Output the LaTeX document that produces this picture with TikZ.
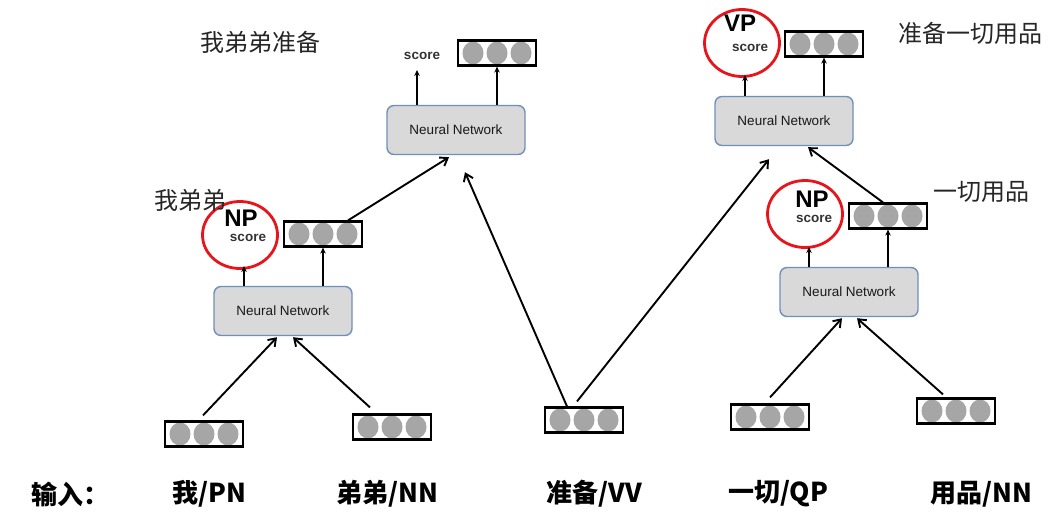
\documentclass[tikz,border=0pt]{standalone}
\usepackage{fontspec}
\setmainfont{Liberation Sans}
\newfontfamily\cjk{Noto Sans CJK SC}
\usetikzlibrary{arrows.meta,shapes.geometric}
\definecolor{dotgray}{HTML}{A6A6A6}
\definecolor{nnfill}{HTML}{D9D9D9}
\definecolor{nnedge}{HTML}{7090BC}
\definecolor{ringred}{HTML}{E8141B}
\tikzset{
  vec/.style={draw, line width=2.2pt, minimum width=78pt, minimum height=25pt, inner sep=0pt,
    path picture={\foreach \i in {-1,0,1}{\fill[dotgray] ([xshift=\i*24pt]path picture bounding box.center) ellipse (10.5pt and 11.5pt);}}},
  nn/.style={draw=nnedge, fill=nnfill, rounded corners=7pt, line width=1.4pt,
    minimum width=138pt, minimum height=49pt, inner sep=0pt,
    font=\fontsize{13.5}{15}\selectfont, text=black!90},
  ring/.style={ellipse, draw=ringred, line width=2.8pt, minimum width=75pt, minimum height=67pt, inner sep=0pt},
  scorelbl/.style={font=\bfseries\fontsize{13.5}{15}\selectfont, text=black!80, inner sep=0pt},
  tag/.style={font=\bfseries\fontsize{24}{26}\selectfont, inner sep=0pt},
  up/.style={-{Stealth[length=6pt,width=5.5pt]}, line width=1.9pt},
  link/.style={-{Straight Barb[length=7pt,width=10pt]}, line width=1.9pt},
  phrase/.style={font=\cjk\fontsize{24}{26}\selectfont, text=black!85, inner sep=0pt},
  word/.style={font=\cjk\bfseries\fontsize{26}{28}\selectfont, inner sep=0pt}
}
\begin{document}
\begin{tikzpicture}[x=1pt,y=-1pt]
\useasboundingbox[fill=white] (0,0) rectangle (1056,515);

% input vectors
\node[vec] (v1) at (204,434) {};
\node[vec] (v2) at (392,427) {};
\node[vec] (v3) at (584,420) {};
\node[vec] (v4) at (770,417) {};
\node[vec] (v5) at (956,411) {};

% left subtree
\node[nn] (nnL) at (283,311) {Neural Network};
\node[ring] (ringL) at (240,235) {};
\node[tag] (npL) at (241,218) {NP};
\node[scorelbl] (scL) at (248,238) {score};
\node[vec] (vL) at (323,234) {};
\node[phrase] (pL) at (190,200) {我弟弟};

% middle
\node[nn] (nnM) at (456,130) {Neural Network};
\node[scorelbl] (scM) at (422,56) {score};
\node[vec] (vM) at (497,53) {};
\node[phrase] (pM) at (260,42) {我弟弟准备};

% right top
\node[nn] (nnR) at (784,121) {Neural Network};
\node[ring] (ringR) at (742,43) {};
\node[tag] (vpR) at (740,23) {VP};
\node[scorelbl] (scR) at (750,48) {score};
\node[vec] (vR) at (824,44) {};
\node[phrase] (pR) at (970,33) {准备一切用品};

% right lower
\node[nn] (nnQ) at (849,292) {Neural Network};
\node[ring] (ringQ) at (805,214) {};
\node[tag] (npQ) at (812,199) {NP};
\node[scorelbl] (scQ) at (814,219) {score};
\node[vec] (vQ) at (888,216) {};
\node[phrase] (pQ) at (981,192) {一切用品};

% upward outputs
\draw[up] (nnL.north -| 244,0) -- (244,266);
\draw[up] (nnL.north -| vL.south) -- (vL.south);
\draw[up] (nnM.north -| 417,0) -- (417,70);
\draw[up] (nnM.north -| vM.south) -- (vM.south);
\draw[up] (nnR.north -| 745,0) -- (745,75);
\draw[up] (nnR.north -| vR.south) -- (vR.south);
\draw[up] (nnQ.north -| 809,0) -- (809,247);
\draw[up] (nnQ.north -| vQ.south) -- (vQ.south);

% connectors
\draw[link] ([xshift=-1pt,yshift=5pt]v1.north) -- ([xshift=-6pt,yshift=-1pt]nnL.south);
\draw[link] ([xshift=-22pt,yshift=6pt]v2.north) -- ([xshift=10pt,yshift=-1pt]nnL.south);
\draw[link] ([xshift=25pt]vL.north) -- ([xshift=-7pt,yshift=-2pt]nnM.south);
\draw[link] ([xshift=-17pt]v3.north) -- ([xshift=9pt,yshift=-17pt]nnM.south);
\draw[link] ([xshift=-7pt,yshift=5pt]v3.north) -- ([xshift=-15pt,yshift=-13pt]nnR.south);
\draw[link] ([xshift=-5pt]vQ.north) -- ([xshift=24pt,yshift=-1pt]nnR.south);
\draw[link] ([xshift=0pt,yshift=6pt]v4.north) -- ([xshift=-7pt,yshift=-1pt]nnQ.south);
\draw[link] ([xshift=-13pt,yshift=3pt]v5.north) -- ([xshift=8pt,yshift=-1pt]nnQ.south);

% bottom labels
\node[word] (lin) at (70,494) {输入：};
\node[word] (l1) at (209,494) {我/PN};
\node[word] (l2) at (387,494) {弟弟/NN};
\node[word] (l3) at (594,494) {准备/VV};
\node[word] (l4) at (778,494) {一切/QP};
\node[word] (l5) at (981,494) {用品/NN};
\end{tikzpicture}
\end{document}
